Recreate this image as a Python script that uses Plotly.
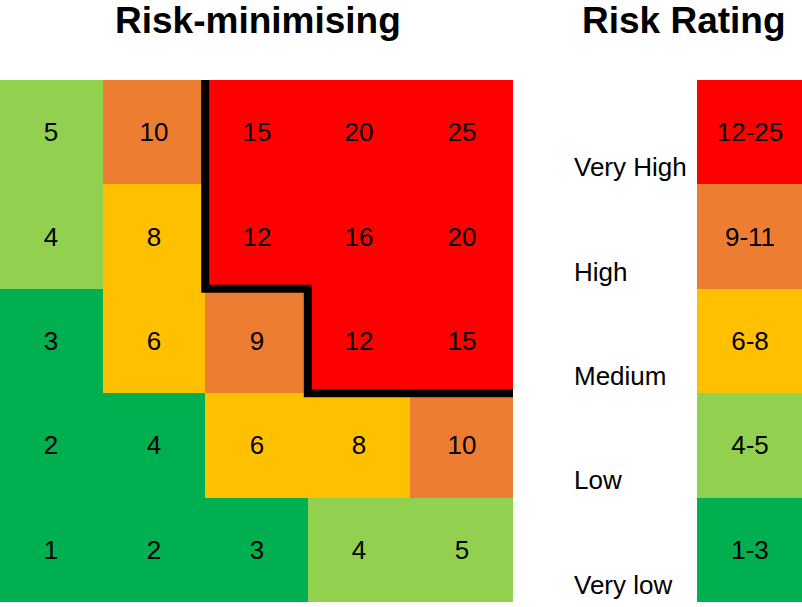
import plotly.graph_objects as go

# ---- data ----
impact = [1, 2, 3, 4, 5]            # columns (x)
likelihood = [1, 2, 3, 4, 5]        # rows (y, bottom -> top)
# risk scores, bottom row first
scores = [
    [1, 2, 3, 4, 5],
    [2, 4, 6, 8, 10],
    [3, 6, 9, 12, 15],
    [4, 8, 12, 16, 20],
    [5, 10, 15, 20, 25],
]
# colour band index per cell (0 Very low .. 4 Very High), bottom row first
bands = [
    [0, 0, 0, 1, 1],
    [0, 0, 2, 2, 3],
    [0, 2, 3, 4, 4],
    [1, 2, 4, 4, 4],
    [1, 3, 4, 4, 4],
]
band_names = ["Very low", "Low", "Medium", "High", "Very High"]
band_ranges = ["1-3", "4-5", "6-8", "9-11", "12-25"]
band_colors = ["#00B050", "#92D050", "#FFC000", "#ED7D31", "#FF0000"]
# risk-minimising boundary (cell-edge coordinates)
boundary_x = [1.5, 1.5, 2.5, 2.5, 4.5]
boundary_y = [4.5, 2.5, 2.5, 1.5, 1.5]

# discrete colourscale
cs = []
n = len(band_colors)
for i, c in enumerate(band_colors):
    cs.append([i / n, c])
    cs.append([(i + 1) / n, c])

W, H = 802, 607
top_px, bot_px = 80, 602
ydom = [(H - bot_px) / H, (H - top_px) / H]
FONT = "Liberation Sans, Arial"

fig = go.Figure()
fig.add_trace(go.Heatmap(
    x=[v - 1 for v in impact], y=[v - 1 for v in likelihood],
    z=bands, text=scores, texttemplate="%{text}",
    textfont=dict(size=26, color="#000000", family=FONT),
    colorscale=cs, zmin=-0.5, zmax=n - 0.5, showscale=False, hoverinfo="skip",
    xaxis="x", yaxis="y",
))
fig.add_trace(go.Scatter(
    x=boundary_x, y=boundary_y, mode="lines",
    line=dict(color="#000000", width=8), hoverinfo="skip",
    xaxis="x", yaxis="y", cliponaxis=True,
))
fig.add_trace(go.Heatmap(
    x=[0], y=list(range(n)), z=[[i] for i in range(n)],
    text=[[r] for r in band_ranges], texttemplate="%{text}",
    textfont=dict(size=26, color="#000000", family=FONT),
    colorscale=cs, zmin=-0.5, zmax=n - 0.5, showscale=False, hoverinfo="skip",
    xaxis="x2", yaxis="y2",
))

annotations = []
for i, name in enumerate(band_names):
    annotations.append(dict(
        text=name, x=572 / W, xref="paper", xanchor="left",
        y=i - 0.335, yref="y2", yanchor="middle", showarrow=False,
        font=dict(size=26, color="#000000", family=FONT),
    ))
annotations.append(dict(
    text="<b>Risk-minimising</b>", x=258 / W, xref="paper", xanchor="center",
    y=1 - 21 / H, yref="paper", yanchor="middle", showarrow=False,
    font=dict(size=37, color="#000000", family=FONT),
))
annotations.append(dict(
    text="<b>Risk Rating</b>", x=684 / W, xref="paper", xanchor="center",
    y=1 - 21 / H, yref="paper", yanchor="middle", showarrow=False,
    font=dict(size=37, color="#000000", family=FONT),
))

ax_common = dict(showgrid=False, zeroline=False, showticklabels=False,
                 ticks="", showline=False, fixedrange=True)
fig.update_layout(
    width=W, height=H, margin=dict(l=0, r=0, t=0, b=0),
    paper_bgcolor="white", plot_bgcolor="white", showlegend=False,
    xaxis=dict(domain=[0, 513 / W], range=[-0.5, 4.5], **ax_common),
    yaxis=dict(domain=ydom, range=[-0.5, 4.5], **ax_common),
    xaxis2=dict(domain=[697 / W, 1], range=[-0.5, 0.5], anchor="y2", **ax_common),
    yaxis2=dict(domain=ydom, range=[-0.5, 4.5], anchor="x2", **ax_common),
    annotations=annotations,
)
fig.write_html("out.html")
